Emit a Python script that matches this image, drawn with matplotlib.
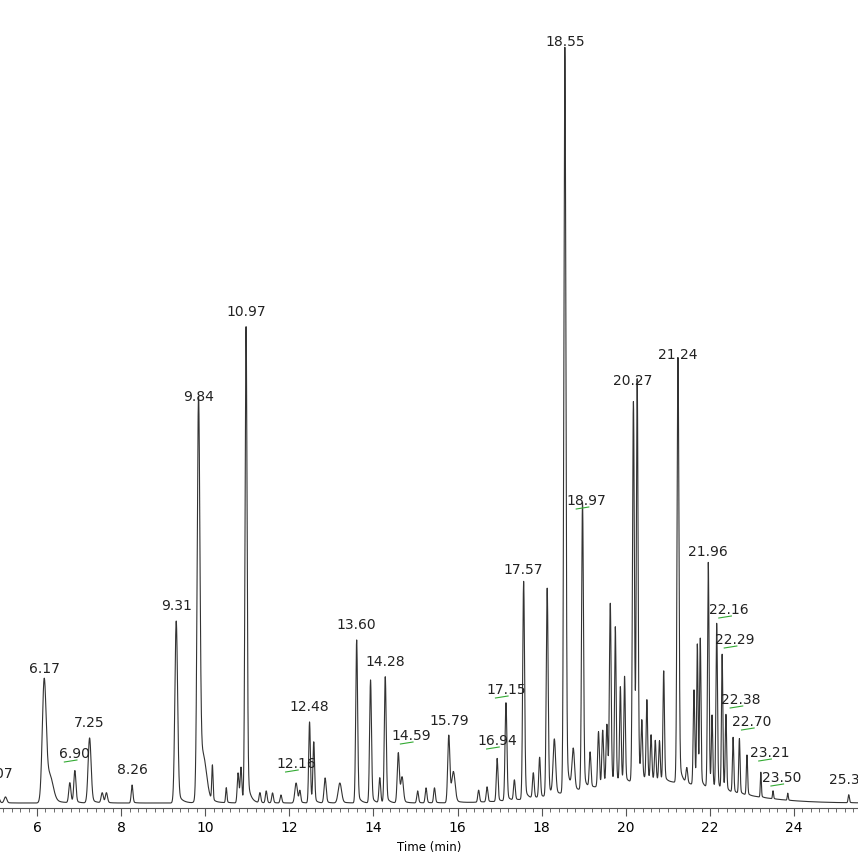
import numpy as np
import matplotlib
matplotlib.use("Agg")
import matplotlib.pyplot as plt

# peak retention times (min), heights (arbitrary units), widths (sigma, min)
peak_rt = [5.07, 5.25, 6.17, 6.30, 6.78, 6.90, 7.25, 7.55, 7.65, 8.26, 9.31, 9.84, 9.95, 10.17, 10.50,
           10.78, 10.85, 10.97, 11.3, 11.45, 11.6, 11.8, 12.16, 12.25, 12.48, 12.58, 12.85, 13.2, 13.60,
           13.93, 14.15, 14.28, 14.59, 14.68, 15.05, 15.25, 15.45, 15.79, 15.9, 16.5, 16.7, 16.94,
           17.15, 17.35, 17.57, 17.8, 17.95, 18.13, 18.3, 18.55, 18.75, 18.97, 19.15, 19.35, 19.45,
           19.55, 19.63, 19.75, 19.87, 19.97, 20.18, 20.27, 20.38, 20.5, 20.6, 20.7, 20.8, 20.9,
           21.24, 21.45, 21.62, 21.7, 21.77, 21.96, 22.05, 22.16, 22.29, 22.38, 22.55, 22.70, 22.88,
           23.21, 23.50, 23.85, 25.30]
peak_h = [10, 6, 118, 25, 20, 32, 65, 10, 10, 18, 182, 391, 40, 35, 15,
          30, 35, 476, 10, 12, 10, 8, 20, 12, 81, 60, 25, 20, 163,
          123, 25, 126, 50, 25, 12, 15, 15, 67, 30, 12, 15, 43,
          98, 20, 218, 25, 40, 208, 55, 746, 40, 287, 35, 55, 55,
          60, 180, 155, 95, 105, 380, 395, 55, 80, 45, 40, 40, 110,
          425, 15, 95, 140, 145, 225, 70, 165, 135, 75, 55, 55, 40,
          25, 8, 7, 8]
peak_w = [0.03, 0.03, 0.045, 0.08, 0.025, 0.025, 0.035, 0.025, 0.025, 0.02, 0.032, 0.032, 0.08, 0.015, 0.015,
          0.02, 0.02, 0.024, 0.02, 0.02, 0.02, 0.02, 0.03, 0.02, 0.02, 0.02, 0.025, 0.04, 0.022,
          0.022, 0.02, 0.022, 0.025, 0.03, 0.02, 0.02, 0.02, 0.025, 0.04, 0.02, 0.02, 0.02,
          0.022, 0.02, 0.022, 0.02, 0.02, 0.022, 0.03, 0.024, 0.03, 0.022, 0.02, 0.02, 0.02,
          0.02, 0.02, 0.018, 0.018, 0.018, 0.022, 0.02, 0.018, 0.018, 0.018, 0.018, 0.018, 0.018,
          0.022, 0.02, 0.018, 0.016, 0.016, 0.018, 0.016, 0.018, 0.016, 0.016, 0.016, 0.016, 0.015,
          0.012, 0.012, 0.012, 0.015]

# elevated baseline hump in the late region
hump_center, hump_height, hump_width = 20.6, 22, 1.6

# labels: text, time, label height, x-offset, underline?
label_text = ["5.07", "6.17", "6.90", "7.25", "8.26", "9.31", "9.84", "10.97", "12.16", "12.48", "13.60",
              "14.28", "14.59", "15.79", "16.94", "17.15", "17.57", "18.55", "18.97", "20.27", "21.24",
              "21.96", "22.16", "22.29", "22.38", "22.70", "23.21", "23.50", "25.30"]
label_x = [5.07, 6.17, 6.90, 7.25, 8.26, 9.31, 9.84, 10.97, 12.16, 12.48, 13.60,
           14.28, 14.59, 15.79, 16.94, 17.15, 17.57, 18.55, 18.97, 20.27, 21.24,
           21.96, 22.16, 22.29, 22.38, 22.70, 23.21, 23.50, 25.30]
label_y = [22, 127, 42, 73, 26, 190, 399, 484, 32, 89, 171,
           134, 60, 75, 55, 106, 226, 754, 295, 415, 441,
           244, 186, 156, 96, 74, 43, 18, 16]
label_dx = [0, 0, 0, 0, 0, 0, 0, 0, 0, 0, 0,
            0, 0.3, 0, 0, 0, 0, 0, 0.1, -0.1, 0,
            0, 0.3, 0.3, 0.35, 0.3, 0.2, 0.2, 0]
label_line = [False, False, True, False, False, False, False, False, True, False, False,
              False, True, False, True, True, False, False, True, False, False,
              False, True, True, True, True, True, True, False]

t = np.linspace(4.9, 25.6, 12000)
y = np.zeros_like(t)
for rt, h, w in zip(peak_rt, peak_h, peak_w):
    g = np.exp(-0.5 * ((t - rt) / w) ** 2)
    tail = np.where(t > rt, np.exp(-(t - rt) / (3 * w)) * 0.08, 0)
    y += h * (g + tail * (1 - g))
y += hump_height * np.exp(-0.5 * ((t - hump_center) / hump_width) ** 2)

fig = plt.figure(figsize=(8.58, 8.58), dpi=100)
ax = fig.add_axes([0, 50 / 858, 1, 808 / 858])
ax.plot(t, y, color="#333333", lw=0.8)
ax.set_xlim(5.12, 25.52)
ax.set_ylim(-5, 803)
for s in ["top", "left", "right"]:
    ax.spines[s].set_visible(False)
ax.spines["bottom"].set_color("#555555")
ax.set_yticks([])
ax.set_xticks(np.arange(6, 26, 2))
ax.set_xticks(np.arange(5.2, 25.6, 0.2), minor=True)
ax.tick_params(axis="x", which="major", length=6, labelsize=10, color="#555555")
ax.tick_params(axis="x", which="minor", length=3, color="#555555")
ax.set_xlabel("Time (min)", fontsize=8.5, labelpad=4)

for txt, x, ly, dx, ln in zip(label_text, label_x, label_y, label_dx, label_line):
    ax.text(x + dx, ly, txt, ha="center", va="bottom", fontsize=10, color="#222222")
    if ln:
        ax.plot([x + dx - 0.25, x + dx + 0.05], [ly - 1, ly + 1], color="#33aa33", lw=0.8)

fig.savefig("out.png", dpi=100)
